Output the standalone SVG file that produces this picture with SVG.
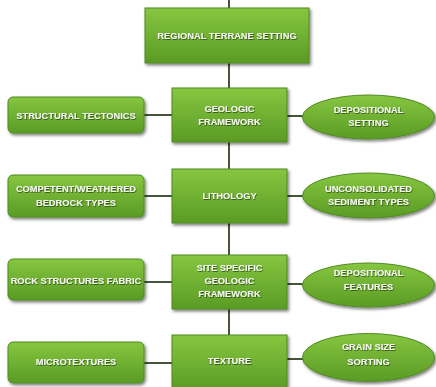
<svg xmlns="http://www.w3.org/2000/svg" width="436" height="387" viewBox="0 0 436 387">
  <defs>
    <linearGradient id="green" x1="0" y1="0" x2="0" y2="1">
      <stop offset="0" stop-color="#86c640"/>
      <stop offset="1" stop-color="#5a9b25"/>
    </linearGradient>
    <filter id="shadow" x="-10%" y="-10%" width="125%" height="135%">
      <feDropShadow dx="1.5" dy="2" stdDeviation="1.5" flood-color="#000" flood-opacity="0.5"/>
    </filter>
    <filter id="tshadow" x="-5%" y="-20%" width="110%" height="150%">
      <feDropShadow dx="0.7" dy="0.9" stdDeviation="0.5" flood-color="#263f0e" flood-opacity="0.8"/>
    </filter>
  </defs>
  <style>
    .box { fill: url(#green); stroke: #4f8a22; stroke-width: 1; filter: url(#shadow); }
    .lbl { font-family: "Liberation Sans", Arial, sans-serif; font-weight: bold; font-size: 9.3px; fill: #f4f8ee; text-anchor: middle; filter: url(#tshadow); }
    .conn { stroke: #44553a; stroke-width: 2; fill: none; }
  </style>
  <rect width="436" height="387" fill="#ffffff"/>

  <g id="connectors">
    <line class="conn" x1="229" y1="0" x2="229" y2="8"/>
    <line class="conn" x1="229" y1="63" x2="229" y2="88"/>
    <line class="conn" x1="229" y1="142" x2="229" y2="169"/>
    <line class="conn" x1="229" y1="223" x2="229" y2="255"/>
    <line class="conn" x1="229" y1="309" x2="229" y2="335"/>
    <line class="conn" x1="144" y1="115" x2="172" y2="115"/>
    <line class="conn" x1="287" y1="116" x2="303" y2="116"/>
    <line class="conn" x1="144" y1="196" x2="172" y2="196"/>
    <line class="conn" x1="287" y1="196" x2="303" y2="196"/>
    <line class="conn" x1="144" y1="282" x2="172" y2="282"/>
    <line class="conn" x1="287" y1="284" x2="303" y2="284"/>
    <line class="conn" x1="144" y1="363" x2="172" y2="363"/>
    <line class="conn" x1="287" y1="359" x2="303" y2="359"/>
  </g>

  <g id="regional-terrane-setting">
    <rect class="box" x="145" y="8" width="164" height="55"/>
    <text class="lbl" x="227" y="38.5">REGIONAL TERRANE SETTING</text>
  </g>

  <g id="structural-tectonics">
    <rect class="box" x="8" y="97" width="136" height="36" rx="5"/>
    <text class="lbl" x="76" y="118.5">STRUCTURAL TECTONICS</text>
  </g>
  <g id="geologic-framework">
    <rect class="box" x="172" y="88" width="115" height="54"/>
    <text class="lbl" x="229.5" y="112">GEOLOGIC</text>
    <text class="lbl" x="229.5" y="125">FRAMEWORK</text>
  </g>
  <g id="depositional-setting">
    <ellipse class="box" cx="368.5" cy="117" rx="66" ry="22"/>
    <text class="lbl" x="368.5" y="113">DEPOSITIONAL</text>
    <text class="lbl" x="368.5" y="126">SETTING</text>
  </g>

  <g id="competent-weathered">
    <rect class="box" x="8" y="175" width="136" height="42" rx="5"/>
    <text class="lbl" x="76" y="192">COMPETENT/WEATHERED</text>
    <text class="lbl" x="76" y="205.5">BEDROCK TYPES</text>
  </g>
  <g id="lithology">
    <rect class="box" x="172" y="169" width="115" height="54"/>
    <text class="lbl" x="229.5" y="199">LITHOLOGY</text>
  </g>
  <g id="unconsolidated-sediment">
    <ellipse class="box" cx="368.5" cy="195.5" rx="66" ry="22.5"/>
    <text class="lbl" x="368.5" y="192">UNCONSOLIDATED</text>
    <text class="lbl" x="368.5" y="205">SEDIMENT TYPES</text>
  </g>

  <g id="rock-structures-fabric">
    <rect class="box" x="8" y="259" width="136" height="41" rx="5"/>
    <text class="lbl" x="76" y="284">ROCK STRUCTURES FABRIC</text>
  </g>
  <g id="site-specific-framework">
    <rect class="box" x="172" y="255" width="115" height="54"/>
    <text class="lbl" x="229.5" y="271">SITE SPECIFIC</text>
    <text class="lbl" x="229.5" y="284">GEOLOGIC</text>
    <text class="lbl" x="229.5" y="296.5">FRAMEWORK</text>
  </g>
  <g id="depositional-features">
    <ellipse class="box" cx="368.5" cy="285" rx="66" ry="22"/>
    <text class="lbl" x="368.5" y="276">DEPOSITIONAL</text>
    <text class="lbl" x="368.5" y="290">FEATURES</text>
  </g>

  <g id="microtextures">
    <rect class="box" x="8" y="342" width="136" height="41" rx="5"/>
    <text class="lbl" x="76" y="365">MICROTEXTURES</text>
  </g>
  <g id="texture">
    <rect class="box" x="172" y="335" width="115" height="56"/>
    <text class="lbl" x="229.5" y="364">TEXTURE</text>
  </g>
  <g id="grain-size-sorting">
    <ellipse class="box" cx="368.5" cy="357.5" rx="66" ry="24"/>
    <text class="lbl" x="368.5" y="350">GRAIN SIZE</text>
    <text class="lbl" x="368.5" y="365">SORTING</text>
  </g>
</svg>
